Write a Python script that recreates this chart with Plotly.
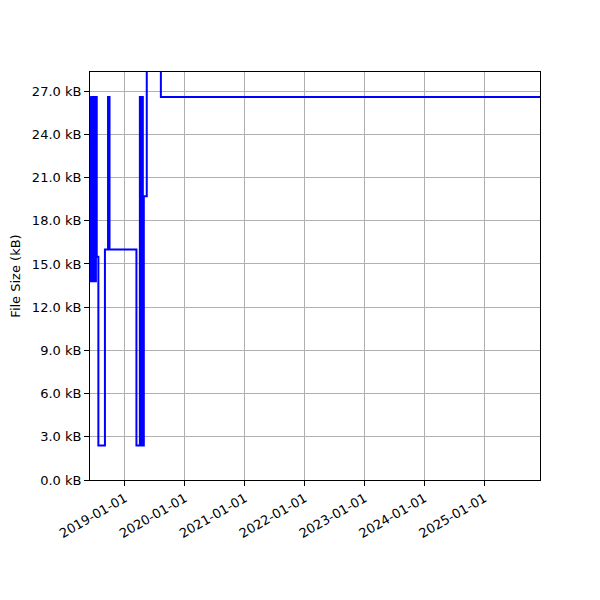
import plotly.graph_objects as go

dates = [
    "2018-06-03", "2018-06-07", "2018-06-10", "2018-06-14", "2018-06-17",
    "2018-06-21", "2018-06-24", "2018-06-28", "2018-07-01", "2018-07-05",
    "2018-07-08", "2018-07-13", "2018-07-23", "2018-09-01", "2018-09-20",
    "2018-09-23", "2018-09-26", "2018-09-29", "2019-03-12", "2019-04-02",
    "2019-04-05", "2019-04-08", "2019-04-11", "2019-04-14", "2019-04-20",
    "2019-04-26", "2019-05-14", "2019-08-08", "2025-12-05",
]
sizes_kb = [
    26.6, 13.8, 26.6, 13.8, 26.6,
    13.8, 26.6, 13.8, 26.6, 13.8,
    26.6, 15.5, 2.4, 16.0, 26.6,
    16.0, 26.6, 16.0, 2.4, 26.6,
    2.4, 26.6, 2.4, 26.6, 2.4,
    19.7, 32.0, 26.6, 26.6,
]

y_ticks = [0, 3, 6, 9, 12, 15, 18, 21, 24, 27]
y_tick_labels = [f"{v:.1f} kB" for v in y_ticks]
x_ticks = ["2019-01-01", "2020-01-01", "2021-01-01", "2022-01-01",
           "2023-01-01", "2024-01-01", "2025-01-01"]
x_range = ["2018-06-02", "2025-12-05"]
y_range = [0, 28.33]

fig = go.Figure()
fig.add_trace(go.Scatter(
    x=dates, y=sizes_kb, mode="lines", line_shape="hv",
    line=dict(color="blue", width=2), showlegend=False,
))

axis_common = dict(
    showline=True, linecolor="black", linewidth=1, mirror=True,
    ticks="outside", ticklen=5, tickwidth=1, tickcolor="black",
    showgrid=True, gridcolor="#b0b0b0", gridwidth=1, zeroline=False,
    automargin=False,
    tickfont=dict(family="DejaVu Sans", size=13, color="black"),
)

fig.update_layout(
    width=600, height=600,
    margin=dict(l=82, r=68, t=64, b=128),
    paper_bgcolor="white", plot_bgcolor="white",
    font=dict(family="DejaVu Sans", size=13, color="black"),
    xaxis=dict(range=x_range, tickvals=x_ticks, ticktext=x_ticks,
               tickangle=-30, **axis_common),
    yaxis=dict(range=y_range, tickvals=y_ticks, ticktext=y_tick_labels,
               title=dict(text="File Size (kB)", standoff=8,
                          font=dict(family="DejaVu Sans", size=13)),
               **axis_common),
)

fig.write_html("out.html")
